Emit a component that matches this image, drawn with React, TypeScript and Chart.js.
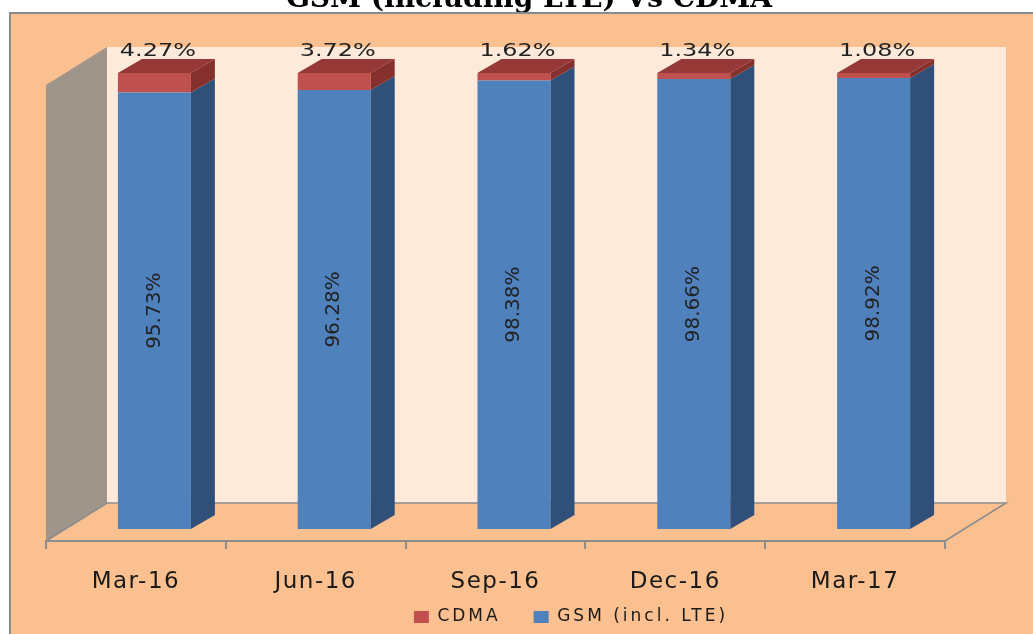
import React, { useEffect, useRef } from 'react';
import { Chart, registerables } from 'chart.js';

Chart.register(...registerables);

// ---------- data ----------
const categories = ['Mar-16', 'Jun-16', 'Sep-16', 'Dec-16', 'Mar-17'];
const gsmValues = [95.73, 96.28, 98.38, 98.66, 98.92];
const cdmaValues = [4.27, 3.72, 1.62, 1.34, 1.08];
const seriesNames = ['CDMA', 'GSM (incl. LTE)'];
const titleText = 'GSM (including LTE) Vs CDMA';

const fmt = (v: number) => v.toFixed(2) + '%';

// ---------- styling / geometry ----------
const ORANGE = '#FAC090';
const BACK_WALL = '#FDEADA';
const SIDE_WALL = '#A0958B';
const EDGE = '#8C8C8C';
const GSM_FRONT = '#4F81BD';
const GSM_SIDE = '#305079';
const CDMA_FRONT = '#C0504D';
const CDMA_SIDE = '#85302D';
const CDMA_TOP = '#963836';
const TEXT = '#222222';

const WALL_DX = 61;
const WALL_DY = -38;
const BAR_SHIFT_X = 18.5;
const BAR_SHIFT_Y = -12;
const BAR_DEPTH_X = 24;
const BAR_DEPTH_Y = -14;

const LEGEND_CENTER_X = 571;

const poly = (ctx: CanvasRenderingContext2D, pts: number[][], fill: string) => {
  ctx.beginPath();
  ctx.moveTo(pts[0][0], pts[0][1]);
  for (let i = 1; i < pts.length; i++) ctx.lineTo(pts[i][0], pts[i][1]);
  ctx.closePath();
  ctx.fillStyle = fill;
  ctx.fill();
};

const scenePlugin = {
  id: 'scene3d',
  beforeLayout(chart: any) {
    (chart.ctx as any).letterSpacing = '3px';
  },
  afterLayout(chart: any) {
    const lg = chart.legend;
    if (lg) {
      const shift = LEGEND_CENTER_X - (lg.left + lg.right) / 2;
      lg.left += shift;
      lg.right += shift;
      lg.top += 1.5;
      lg.bottom += 1.5;
    }
    const xs = chart.scales.x;
    if (xs) {
      // let the tick labels extend below the (short) axis box without clipping
      xs.bottom = chart.height;
    }
  },
  beforeDraw(chart: any) {
    const ctx: CanvasRenderingContext2D = chart.ctx;
    const W = chart.width;
    const H = chart.height;
    const a = chart.chartArea;
    ctx.save();
    (ctx as any).letterSpacing = '0px';
    ctx.fillStyle = '#ffffff';
    ctx.fillRect(0, 0, W, H);
    // title (partly cut off at top)
    ctx.fillStyle = '#000000';
    ctx.font = 'bold 28px "DejaVu Serif"';
    ctx.textAlign = 'center';
    ctx.textBaseline = 'alphabetic';
    ctx.fillText(titleText, 529, 7);
    // panel
    ctx.fillStyle = ORANGE;
    ctx.fillRect(10, 13, W - 10, H - 13);
    ctx.strokeStyle = '#8A8A8A';
    ctx.lineWidth = 2;
    ctx.beginPath();
    ctx.moveTo(10, H);
    ctx.lineTo(10, 13);
    ctx.lineTo(W, 13);
    ctx.stroke();

    // back wall
    ctx.fillStyle = BACK_WALL;
    ctx.fillRect(a.left + WALL_DX, a.top + WALL_DY, a.right - a.left, a.bottom - a.top);
    // left side wall
    poly(ctx, [
      [a.left, a.bottom],
      [a.left + WALL_DX, a.bottom + WALL_DY],
      [a.left + WALL_DX, a.top + WALL_DY],
      [a.left, a.top],
    ], SIDE_WALL);
    // floor
    poly(ctx, [
      [a.left, a.bottom],
      [a.right, a.bottom],
      [a.right + WALL_DX, a.bottom + WALL_DY],
      [a.left + WALL_DX, a.bottom + WALL_DY],
    ], ORANGE);
    ctx.strokeStyle = EDGE;
    ctx.lineWidth = 1.5;
    ctx.beginPath();
    ctx.moveTo(a.left, a.bottom);
    ctx.lineTo(a.left + WALL_DX, a.bottom + WALL_DY);
    ctx.lineTo(a.right + WALL_DX, a.bottom + WALL_DY);
    ctx.lineTo(a.right, a.bottom);
    ctx.stroke();
    ctx.restore();
    // letter spacing for legend text
    (ctx as any).letterSpacing = '3px';
  },
  beforeDatasetsDraw(chart: any) {
    const ctx = chart.ctx;
    ctx.save();
    ctx.translate(BAR_SHIFT_X, BAR_SHIFT_Y);
  },
  afterDatasetsDraw(chart: any) {
    const ctx: CanvasRenderingContext2D = chart.ctx;
    ctx.restore();
    ctx.save();
    (ctx as any).letterSpacing = '0px';
    const nSets = chart.data.datasets.length;
    const sideColors = [GSM_SIDE, CDMA_SIDE];
    for (let di = 0; di < nSets; di++) {
      const meta = chart.getDatasetMeta(di);
      meta.data.forEach((el: any) => {
        const x = el.x + BAR_SHIFT_X;
        const w = el.width;
        const top = el.y + BAR_SHIFT_Y;
        const bottom = el.base + BAR_SHIFT_Y;
        const right = x + w / 2;
        const left = x - w / 2;
        poly(ctx, [
          [right, top],
          [right + BAR_DEPTH_X, top + BAR_DEPTH_Y],
          [right + BAR_DEPTH_X, bottom + BAR_DEPTH_Y],
          [right, bottom],
        ], sideColors[di]);
        if (di === nSets - 1) {
          poly(ctx, [
            [left, top],
            [right, top],
            [right + BAR_DEPTH_X, top + BAR_DEPTH_Y],
            [left + BAR_DEPTH_X, top + BAR_DEPTH_Y],
          ], CDMA_TOP);
        }
      });
    }
    // value labels
    ctx.fillStyle = TEXT;
    const gsmMeta = chart.getDatasetMeta(0);
    gsmMeta.data.forEach((el: any, i: number) => {
      const x = el.x + BAR_SHIFT_X;
      const mid = (el.y + el.base) / 2 + BAR_SHIFT_Y;
      ctx.save();
      ctx.translate(x, mid);
      ctx.rotate(-Math.PI / 2);
      ctx.font = '20px "DejaVu Sans"';
      ctx.textAlign = 'center';
      ctx.textBaseline = 'middle';
      ctx.fillText(fmt(gsmValues[i]), 0, 0);
      ctx.restore();
    });
    const cdmaMeta = chart.getDatasetMeta(1);
    cdmaMeta.data.forEach((el: any, i: number) => {
      const x = el.x + BAR_SHIFT_X + 3.5;
      const top = el.y + BAR_SHIFT_Y + BAR_DEPTH_Y - 3;
      ctx.save();
      ctx.translate(x, top);
      ctx.scale(1.33, 1);
      ctx.font = '18px "DejaVu Sans"';
      ctx.textAlign = 'center';
      ctx.textBaseline = 'alphabetic';
      ctx.fillText(fmt(cdmaValues[i]), 0, 0);
      ctx.restore();
    });
    ctx.restore();
    // letter spacing for x-axis tick labels (drawn after datasets, ticks.z = 1)
    (ctx as any).letterSpacing = '1.5px';
  },
};

export default function App() {
  const ref = useRef<HTMLCanvasElement>(null);

  useEffect(() => {
    if (!ref.current) return;
    const chart = new Chart(ref.current, {
      type: 'bar',
      data: {
        labels: categories,
        datasets: [
          {
            label: seriesNames[1],
            data: gsmValues,
            backgroundColor: GSM_FRONT,
            borderWidth: 0,
            categoryPercentage: 1,
            barPercentage: 0.406,
            clip: false,
          },
          {
            label: seriesNames[0],
            data: cdmaValues,
            backgroundColor: CDMA_FRONT,
            borderWidth: 0,
            categoryPercentage: 1,
            barPercentage: 0.406,
            clip: false,
          },
        ],
      },
      options: {
        animation: false,
        responsive: false,
        events: [],
        layout: { padding: { top: 85, left: 46, right: 88, bottom: 0 } },
        scales: {
          x: {
            stacked: true,
            grid: {
              display: true,
              drawOnChartArea: false,
              drawTicks: true,
              tickLength: 8,
              color: EDGE,
              lineWidth: 2,
              offset: true,
            },
            border: { display: true, color: EDGE, width: 2 },
            ticks: {
              z: 1,
              font: { family: 'DejaVu Sans', size: 23 },
              color: '#1a1a1a',
              padding: 19,
              autoSkip: false,
              maxRotation: 0,
              minRotation: 0,
            },
            afterFit: (scale: any) => {
              scale.height = 33;
            },
          },
          y: {
            stacked: true,
            display: false,
            min: 0,
            max: 100,
          },
        },
        plugins: {
          legend: {
            display: true,
            position: 'bottom',
            reverse: true,
            labels: {
              font: { family: 'DejaVu Sans', size: 17 },
              color: '#1a1a1a',
              boxWidth: 15,
              boxHeight: 12,
              padding: 33,
            },
          },
          title: { display: false },
          tooltip: { enabled: false },
        },
      } as any,
      plugins: [scenePlugin],
    });
    return () => chart.destroy();
  }, []);

  return (
    <div
      style={{
        position: 'fixed',
        left: 0,
        top: 0,
        width: 1033,
        height: 634,
        background: '#ffffff',
        overflow: 'hidden',
      }}
    >
      <canvas ref={ref} width={1033} height={634} style={{ display: 'block' }} />
    </div>
  );
}
